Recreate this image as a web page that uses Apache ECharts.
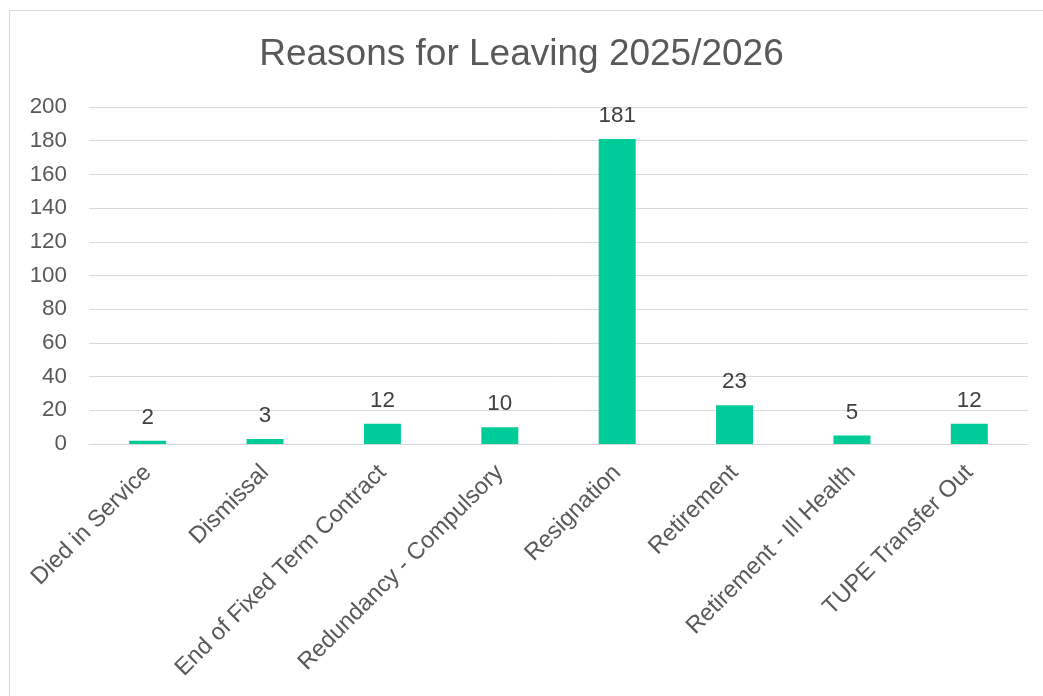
<!DOCTYPE html>
<html>
<head>
<meta charset="utf-8">
<script src="https://cdn.jsdelivr.net/npm/echarts@6/dist/echarts.min.js"></script>
<style>
html,body{margin:0;padding:0;background:#fff;overflow:hidden;}
#frame{position:absolute;left:9px;top:10px;width:1200px;height:900px;border:1px solid #d9d9d9;box-sizing:border-box;}
#chart{position:absolute;left:0;top:0;width:1043px;height:696px;}
</style>
</head>
<body>
<div id="frame"></div>
<div id="chart"></div>
<script>
const titleText = 'Reasons for Leaving 2025/2026';
const categories = ['Died in Service','Dismissal','End of Fixed Term Contract','Redundancy - Compulsory','Resignation','Retirement','Retirement - Ill Health','TUPE Transfer Out'];
const values = [2,3,12,10,181,23,5,12];

const chart = echarts.init(document.getElementById('chart'));
const font = 'Liberation Sans, Arial, sans-serif';
chart.setOption({
  animation:false,
  title:{text:titleText,left:'center',top:31,textStyle:{fontFamily:font,fontSize:37,fontWeight:'normal',color:'#595959'}},
  grid:{left:89,right:15,top:107,bottom:252,containLabel:false},
  xAxis:{type:'category',data:categories,
    axisLine:{show:true,lineStyle:{color:'#d9d9d9',width:1}},
    axisTick:{show:false},
    axisLabel:{rotate:45,interval:0,fontFamily:font,fontSize:23.6,color:'#595959',margin:25}},
  yAxis:{type:'value',min:0,max:200,interval:20,
    axisLine:{show:false},axisTick:{show:false},
    splitLine:{lineStyle:{color:'#d9d9d9',width:1}},
    axisLabel:{fontFamily:font,fontSize:22.4,color:'#595959',margin:22}},
  series:[{type:'bar',data:values,barWidth:'31.5%',
    itemStyle:{color:'#00cc99'},
    label:{show:true,position:'top',distance:12,fontFamily:font,fontSize:22.4,color:'#404040'}}]
});
</script>
</body>
</html>
